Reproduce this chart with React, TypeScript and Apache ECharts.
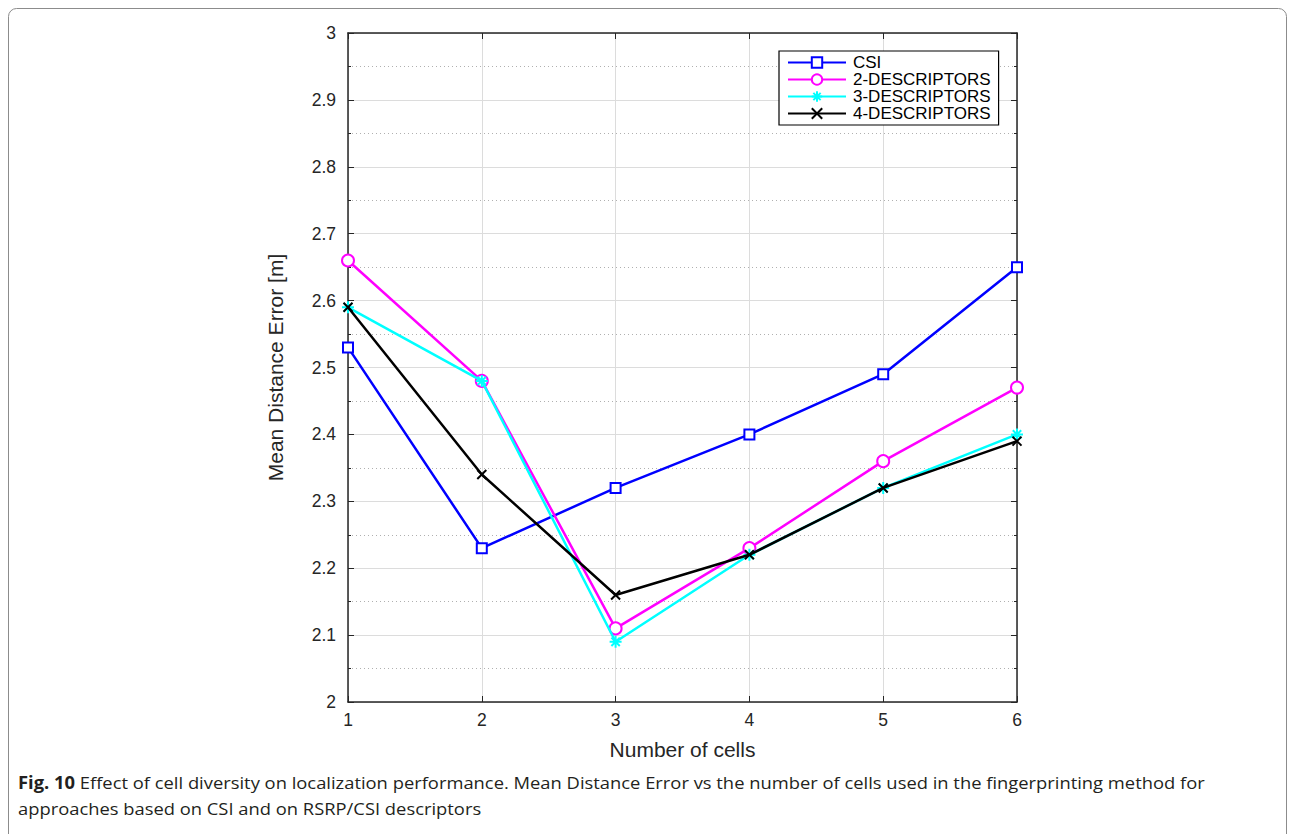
import React, { useEffect, useRef } from "react";
import * as echarts from "echarts";

const cells = [1, 2, 3, 4, 5, 6];
const csi = [2.53, 2.23, 2.32, 2.4, 2.49, 2.65];
const desc2 = [2.66, 2.48, 2.11, 2.23, 2.36, 2.47];
const desc3 = [2.59, 2.48, 2.09, 2.22, 2.32, 2.4];
const desc4 = [2.59, 2.34, 2.16, 2.22, 2.32, 2.39];
const seriesNames = ["CSI", "2-DESCRIPTORS", "3-DESCRIPTORS", "4-DESCRIPTORS"];
const captionBold = "Fig. 10";
const captionLine1 = " Effect of cell diversity on localization performance. Mean Distance Error vs the number of cells used in the fingerprinting method for";
const captionLine2 = "approaches based on CSI and on RSRP/CSI descriptors";

const FONT = "Liberation Sans, Arial, Helvetica, sans-serif";
const AXC = "#262626";

export default function App() {
  const ref = useRef<HTMLDivElement>(null);
  useEffect(() => {
    if (!ref.current) return;
    const chart = echarts.init(ref.current, null, { renderer: "svg" });
    const mk = (arr: number[]) => cells.map((c, i) => [c, arr[i]]);
    const tickStyle = { show: true, inside: true, length: 6, lineStyle: { color: AXC, width: 1 } };
    const minorTick = { show: true, splitNumber: 2, length: 3, lineStyle: { color: AXC, width: 1 } };
    const opt: any = {
      animation: false,
      backgroundColor: "#fff",
      grid: { left: 348, right: 273, top: 33, bottom: 132, containLabel: false },
      legend: {
        data: seriesNames,
        orient: "vertical",
        left: 779,
        top: 51,
        padding: [3, 8, 3, 8],
        itemGap: 0,
        itemWidth: 58,
        itemHeight: 13,
        backgroundColor: "#fff",
        borderColor: "#000",
        borderWidth: 1.2,
        borderRadius: 0,
        textStyle: { fontFamily: FONT, fontSize: 17, color: "#000", padding: [0, 0, 0, 2] },
      },
      xAxis: [
        {
          type: "value",
          min: 1,
          max: 6,
          interval: 1,
          name: "Number of cells",
          nameLocation: "middle",
          nameGap: 37,
          nameTextStyle: { fontFamily: FONT, fontSize: 21, color: AXC },
          axisLine: { show: true, onZero: false, lineStyle: { color: AXC, width: 1.5 } },
          axisTick: tickStyle,
          axisLabel: { fontFamily: FONT, fontSize: 17.5, color: AXC, margin: 9 },
          splitLine: { show: true, lineStyle: { color: "#dcdcdc", width: 1 } },
        },
        {
          type: "value",
          position: "top",
          min: 1,
          max: 6,
          interval: 1,
          axisLine: { show: true, onZero: false, lineStyle: { color: AXC, width: 1.5 } },
          axisTick: tickStyle,
          axisLabel: { show: false },
          splitLine: { show: false },
        },
      ],
      yAxis: [
        {
          type: "value",
          min: 2,
          max: 3,
          interval: 0.1,
          name: "Mean Distance Error [m]",
          nameLocation: "middle",
          nameGap: 62,
          nameTextStyle: { fontFamily: FONT, fontSize: 21, color: AXC },
          axisLine: { show: true, onZero: false, lineStyle: { color: AXC, width: 1.5 } },
          axisTick: tickStyle,
          minorTick,
          axisLabel: {
            fontFamily: FONT,
            fontSize: 17.5,
            color: AXC,
            margin: 12,
            formatter: (v: number) => String(Math.round(v * 10) / 10),
          },
          splitLine: { show: true, lineStyle: { color: "#dcdcdc", width: 1 } },
          minorSplitLine: { show: true, lineStyle: { color: "#b0b0b0", width: 1, type: [1, 3] } },
        },
        {
          type: "value",
          position: "right",
          min: 2,
          max: 3,
          interval: 0.1,
          axisLine: { show: true, onZero: false, lineStyle: { color: AXC, width: 1.5 } },
          axisTick: tickStyle,
          minorTick,
          axisLabel: { show: false },
          splitLine: { show: false },
        },
      ],
      series: [
        {
          name: seriesNames[0],
          type: "line",
          data: mk(csi),
          symbol: "emptyRect",
          symbolSize: 10,
          lineStyle: { color: "#0000ff", width: 2.5 },
          itemStyle: { color: "#0000ff", borderWidth: 2 },
          z: 3,
        },
        {
          name: seriesNames[1],
          type: "line",
          data: mk(desc2),
          symbol: "emptyCircle",
          symbolSize: 12,
          lineStyle: { color: "#ff00ff", width: 2.5 },
          itemStyle: { color: "#ff00ff", borderWidth: 2 },
          z: 4,
        },
        {
          name: seriesNames[2],
          type: "line",
          data: mk(desc3),
          symbol: "path://M5,0L5,10M0,5L10,5M1.5,1.5L8.5,8.5M8.5,1.5L1.5,8.5",
          symbolSize: 12,
          lineStyle: { color: "#00ffff", width: 2.5 },
          itemStyle: { color: "#00ffff", borderColor: "#00ffff", borderWidth: 2 },
          z: 5,
        },
        {
          name: seriesNames[3],
          type: "line",
          data: mk(desc4),
          symbol: "path://M0,0L10,10M10,0L0,10",
          symbolSize: 9,
          lineStyle: { color: "#000000", width: 2.5 },
          itemStyle: { color: "#000000", borderColor: "#000000", borderWidth: 2 },
          z: 6,
        },
      ],
      graphic: [
        {
          type: "rect",
          left: 6,
          top: 6,
          shape: { width: 1278, height: 860, r: 8 },
          style: { fill: "none", stroke: "#8c8c8c", lineWidth: 1 },
          silent: true,
          z: -10,
        },
        {
          type: "text",
          x: 18,
          y: 774,
          scaleX: 1.08,
          style: {
            text: "{b|" + captionBold + "}{n|" + captionLine1 + "}",
            rich: {
              b: { fontFamily: "Open Sans", fontSize: 17, fontWeight: "bold", fill: "#231f20" },
              n: { fontFamily: "Open Sans", fontSize: 17, fill: "#231f20" },
            },
          },
        },
        {
          type: "text",
          x: 18,
          y: 800,
          scaleX: 1.08,
          style: {
            text: captionLine2,
            fontFamily: "Open Sans",
            fontSize: 17,
            fill: "#231f20",
          },
        },
      ],
    };
    chart.setOption(opt);
    return () => chart.dispose();
  }, []);
  return (
    <div
      ref={ref}
      style={{ position: "fixed", left: 0, top: 0, width: 1290, height: 834, background: "#fff" }}
    />
  );
}
